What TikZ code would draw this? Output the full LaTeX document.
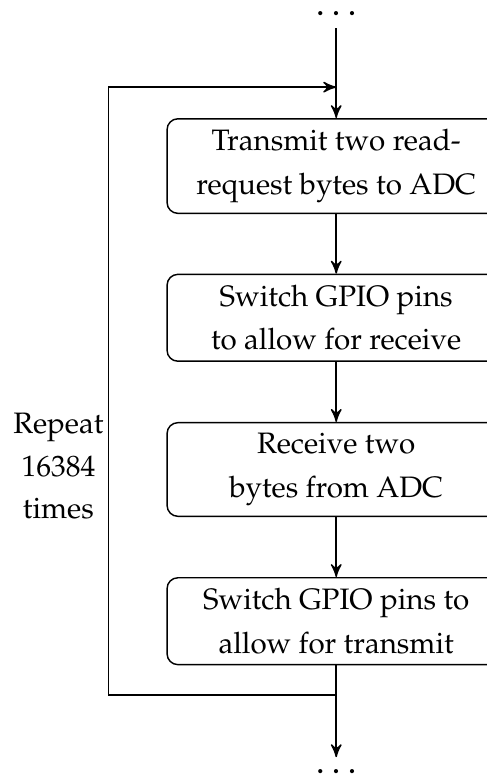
\documentclass[tikz,border=0pt]{standalone}
\usepackage[T1]{fontenc}
\usepackage{mathpazo}
\usetikzlibrary{arrows}
\usetikzlibrary{calc}

\begin{document}
\begin{tikzpicture}[>=stealth',
        box/.style={draw, rectangle, rounded corners=3pt, inner sep=3pt,
            minimum width=3.3cm, align=center,
            font=\fontsize{8.2}{12}\selectfont}]
        \useasboundingbox (0,0) rectangle (4.75,-7.58);
        \node[anchor=base] (dotsin) at (3.28,-0.15) {$\dots$};
        \node[box] (tx) at (3.28,-1.62)
        {Transmit two read-\\request bytes to ADC};
        \node[box, below of=tx, node distance=1.48cm] (swrx)
        {Switch GPIO pins\\to allow for receive};
        \node[box, below of=swrx, node distance=1.48cm] (rx)
        {Receive two\\bytes from ADC};
        \node[box, below of=rx, node distance=1.48cm] (swtx)
        {Switch GPIO pins to\\allow for transmit};
        \node[anchor=base] (dotsout) at (3.28,-7.55) {$\dots$};
        \node[align=center, font=\fontsize{8.2}{11.8}\selectfont] (repeat)
        at (0.57,-4.55) {Repeat\\16384\\times};
        \coordinate (joinin) at (3.28,-0.85);
        \coordinate (joinout) at (3.28,-6.78);
        \coordinate (loopleft) at (1.06,-6.78);
        \draw[->] (dotsin) -- (tx);
        \draw[->] (tx) -- (swrx);
        \draw[->] (swrx) -- (rx);
        \draw[->] (rx) -- (swtx);
        \draw[->] (swtx) -- (dotsout);
        \draw[->] (joinout) -- (loopleft) |- (joinin);
    \end{tikzpicture}
\end{document}
